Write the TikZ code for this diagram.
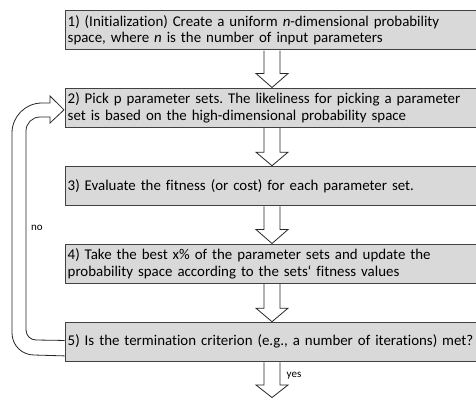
\documentclass[tikz,border=0pt]{standalone}
\usepackage{fontspec}
\setmainfont{Carlito}[Ligatures=NoCommon]
\usetikzlibrary{calc}
\frenchspacing
\newcommand\blkarrow[3]{%
  \draw[blk] ($(#1.south west)+(199,0.45)$) -- ($(#2)+(-8,-#3)$) -- ++(-8,0) -- (#2) -- ++(16,-#3) -- ++(-8,0) -- ($(#1.south west)+(215,0.45)$);}
\begin{document}
\begin{tikzpicture}[x=1pt,y=-1pt,
  box/.style={draw=black!75, fill=black!15, line width=0.9pt, rectangle, anchor=north west,
    minimum width=410.5pt, minimum height=39.3pt, text width=406pt, inner xsep=2.25pt, inner ysep=0pt,
    align=left, font=\fontsize{14.9}{16.7}\selectfont\frenchspacing},
  blk/.style={draw=black!85, fill=white, line width=0.8pt, line join=miter},
  loopline/.style={draw=black!85, line width=0.8pt, line join=miter},
  lbl/.style={font=\fontsize{11}{13}\selectfont, inner sep=0pt}]
\useasboundingbox (0,0) rectangle (476,399);
\node[box] (b1) at (65,10) {1) (Initialization) Create a uniform \textit{n}-dimensional probability\\space, where \textit{n} is the number of input parameters};
\node[box] (b2) at (65,87.5) {2) Pick p parameter sets. The likeliness for picking a parameter\\set is based on the high-dimensional probability space};
\node[box] (b3) at (65,165.7) {3) Evaluate the fitness (or cost) for each parameter set.};
\node[box] (b4) at (65,243.5) {4) Take the best x\% of the parameter sets and update the\\probability space according to the sets‘ fitness values};
\node[box] (b5) at (65,321.7) {\mbox{5) Is the termination criterion (e.g., a number of iterations) met?}};
\coordinate (t2) at ($(b2.north west)+(207,0)$);
\coordinate (t3) at ($(b3.north west)+(207,0)$);
\coordinate (t4) at ($(b4.north west)+(207,0)$);
\coordinate (t5) at ($(b5.north west)+(207,0)$);
\coordinate (tend) at (272,397.5);
\blkarrow{b1}{t2}{14}
\blkarrow{b2}{t3}{13.5}
\blkarrow{b3}{t4}{14}
\blkarrow{b4}{t5}{13.5}
\blkarrow{b5}{tend}{12.5}
\draw[loopline] ($(b5.south west)+(-0.45,-6)$) -- (34,355) .. controls (21.8,355) and (12,345.2) .. (12,333)
  -- (12,133) .. controls (12,116.4) and (25.4,103) .. (42,103) -- (50,103) -- (50,96)
  -- ($(b2.west)+(-1,2.25)$) -- (50,123) -- (50,117) -- (40,117) .. controls (32.3,117) and (26,123.3) .. (26,131)
  -- (26,330) .. controls (26,335.5) and (30.5,340) .. (36,340) -- ($(b5.west)+(-0.45,-1.35)$);
\node[lbl] (no) at (37,228) {no};
\node[lbl, anchor=west] (yes) at (286.5,376) {yes};
\end{tikzpicture}
\end{document}
